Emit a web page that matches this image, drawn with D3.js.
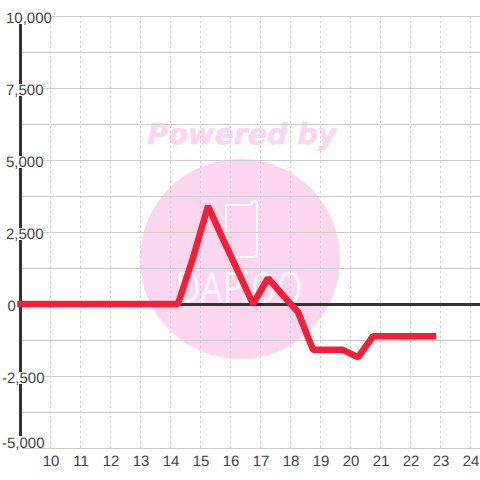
<!DOCTYPE html>
<html lang="en">
<head>
<meta charset="UTF-8" />
<title>Line chart</title>
<style>
  html, body { margin: 0; padding: 0; background: #fff; }
  svg { display: block; }
  text { font-family: "Liberation Sans", Arial, sans-serif; text-rendering: geometricPrecision; }
</style>
</head>
<body>
<div id="chart"></div>
<script src="https://d3js.org/d3.v7.min.js"></script>
<script>
  const xTicks = [10, 11, 12, 13, 14, 15, 16, 17, 18, 19, 20, 21, 22, 23, 24];
  const yTicks = [-5000, -2500, 0, 2500, 5000, 7500, 10000];
  const yGrid = [-5000, -3750, -2500, -1250, 0, 1250, 2500, 3750, 5000, 6250, 7500, 8750, 10000];
  const lineX = [9, 14.25, 14.75, 15.25, 15.75, 16.25, 16.75, 17.25, 17.75, 18.25, 18.75, 19.25, 19.75, 20.25, 20.75, 21.25, 21.75, 22.25, 22.75];
  const lineY = [0, 0, 1600, 3400, 2250, 1130, 0, 900, 300, -280, -1590, -1590, -1590, -1850, -1120, -1120, -1120, -1120, -1120];

  const width = 480, height = 480;
  const x = d3.scaleLinear().domain([10, 24]).range([50.5, 470.5]);
  const y = d3.scaleLinear().domain([-5000, 10000]).range([448, 16]);
  const fmt = d => d3.format(",")(d).replace("\u2212", "-");

  const svg = d3.select("#chart").append("svg")
    .attr("width", width)
    .attr("height", height);

  // watermark
  const mark = svg.append("g");
  mark.append("text")
    .text("Powered by")
    .attr("x", 242).attr("y", 144)
    .attr("text-anchor", "middle")
    .style("font-family", "DejaVu Sans")
    .style("font-weight", "bold")
    .style("font-style", "italic")
    .style("font-size", "28.5px")
    .attr("fill", "#fcd6ee")
    .attr("stroke", "#fcd6ee")
    .attr("stroke-width", 0.6);
  mark.append("circle")
    .attr("cx", 240).attr("cy", 259).attr("r", 100)
    .attr("fill", "#fcd6ee");
  mark.append("path")
    .attr("d", "M228 205 H251 Q252 201 255 201 Q257 201 257 204 V252 Q257 257 252 257 H232 Q226 257 226 251 V207 Q226 205 228 205")
    .attr("fill", "none")
    .attr("stroke", "#fff")
    .attr("stroke-width", 2);
  mark.append("text")
    .text("DAPiOO")
    .attr("transform", "translate(239,302) scale(0.82,1)")
    .attr("text-anchor", "middle")
    .style("font-family", "DejaVu Sans")
    .style("font-weight", "200")
    .style("font-size", "40px")
    .attr("fill", "#fff")
    .attr("stroke", "#fff")
    .attr("stroke-width", 1.2)
    .attr("opacity", 0.85);

  // grid
  svg.append("g")
    .selectAll("line")
    .data(yGrid)
    .join("line")
    .attr("x1", 22).attr("x2", width)
    .attr("y1", d => y(d) + 0.5).attr("y2", d => y(d) + 0.5)
    .attr("stroke", "#ccc");
  svg.append("g")
    .selectAll("line")
    .data(xTicks)
    .join("line")
    .attr("x1", d => x(d)).attr("x2", d => x(d))
    .attr("y1", y(10000)).attr("y2", y(-5000))
    .attr("stroke", "#ccc")
    .attr("stroke-dasharray", "2,3");

  // axis bars
  svg.append("line")
    .attr("x1", 20.5).attr("x2", 20.5)
    .attr("y1", y(10000)).attr("y2", y(-5000))
    .attr("stroke", "#333").attr("stroke-width", 3);
  svg.append("line")
    .attr("x1", 20).attr("x2", width)
    .attr("y1", y(0) + 0.5).attr("y2", y(0) + 0.5)
    .attr("stroke", "#333").attr("stroke-width", 3);

  // axes, tick labels sit on white boxes that cut the bars and grid
  const yAxis = svg.append("g")
    .call(d3.axisLeft(y).tickValues(yTicks).tickSize(0).tickFormat(fmt));
  yAxis.select(".domain").remove();
  yAxis.selectAll("text")
    .attr("x", d => d < 0 ? 2 : (d === 0 ? 7.5 : 6))
    .attr("y", d => d === -5000 ? -0.5 : 6.5)
    .attr("dy", 0)
    .attr("text-anchor", "start")
    .style("font-family", "Liberation Sans")
    .style("font-size", "15px")
    .attr("fill", "#444");
  yAxis.selectAll(".tick").each(function(d) {
    const t = d3.select(this).select("text");
    const w = t.node().getComputedTextLength();
    const left = +t.attr("x");
    d3.select(this).insert("rect", "text")
      .attr("x", left).attr("y", d === -5000 ? -12.5 : -4.5)
      .attr("width", w).attr("height", 12)
      .attr("fill", "#fff");
  });

  const xAxis = svg.append("g")
    .attr("transform", `translate(0,${y(-5000)})`)
    .call(d3.axisBottom(x).tickValues(xTicks).tickSize(0).tickFormat(d3.format("d")));
  xAxis.select(".domain").remove();
  xAxis.selectAll("text")
    .attr("y", 18)
    .attr("dy", 0)
    .style("font-family", "Liberation Sans")
    .style("font-size", "15px")
    .attr("fill", "#444");

  // series
  const line = d3.line()
    .x(d => x(lineX[d]))
    .y(d => y(lineY[d]));
  svg.append("path")
    .datum(d3.range(lineX.length))
    .attr("d", line)
    .attr("fill", "none")
    .attr("stroke", "#f21f36")
    .attr("stroke-width", 6.5)
    .attr("stroke-linejoin", "bevel")
    .attr("stroke-linecap", "square");
</script>
</body>
</html>
